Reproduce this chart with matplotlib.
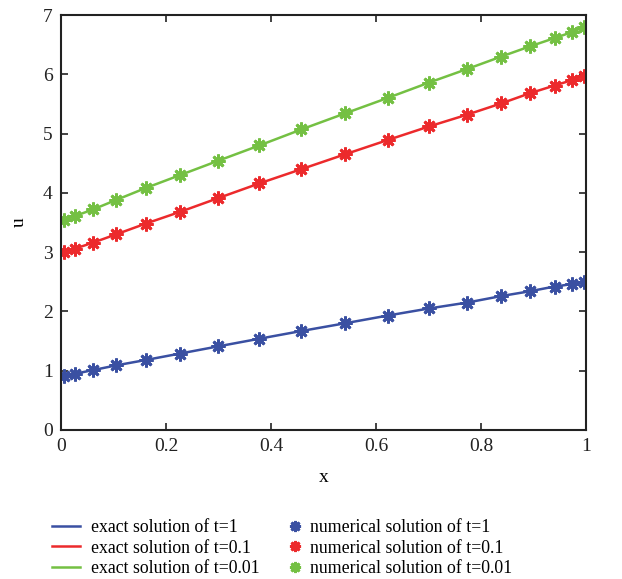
import matplotlib
matplotlib.use("Agg")
import matplotlib.pyplot as plt

plt.rcParams['font.family'] = ['Liberation Serif', 'DejaVu Serif']

x = [0.006, 0.027, 0.061, 0.105, 0.161, 0.227, 0.299, 0.378, 0.458, 0.541,
     0.622, 0.701, 0.774, 0.839, 0.893, 0.940, 0.973, 0.997]
u_t1 = [0.91, 0.95, 1.01, 1.09, 1.18, 1.29, 1.41, 1.54, 1.67, 1.80,
        1.93, 2.05, 2.15, 2.26, 2.34, 2.42, 2.46, 2.49]
u_t01 = [3.00, 3.06, 3.16, 3.30, 3.48, 3.68, 3.91, 4.16, 4.40, 4.65,
         4.89, 5.12, 5.32, 5.51, 5.68, 5.81, 5.90, 5.97]
u_t001 = [3.54, 3.61, 3.72, 3.88, 4.08, 4.30, 4.54, 4.80, 5.07, 5.34,
          5.60, 5.86, 6.09, 6.30, 6.47, 6.61, 6.71, 6.80]

labels_exact = ["exact solution of t=1", "exact solution of t=0.1", "exact solution of t=0.01"]
labels_num = ["numerical solution of t=1", "numerical solution of t=0.1", "numerical solution of t=0.01"]
colors = ["#3a50a2", "#ec2a2c", "#74c043"]
xticks = [0, 0.2, 0.4, 0.6, 0.8, 1]
xticklabels = ["0", "0.2", "0.4", "0.6", "0.8", "1"]
yticks = [0, 1, 2, 3, 4, 5, 6, 7]

fig = plt.figure(figsize=(6.22, 5.79), dpi=100)
ax = fig.add_axes([61/622, 1 - 430/579, 525/622, 415/579])

series = [u_t1, u_t01, u_t001]
line_handles = []
mark_handles = []
for s, c, le, ln in zip(series, colors, labels_exact, labels_num):
    h1, = ax.plot(x, s, color=c, lw=1.8, label=le)
    h2, = ax.plot(x, s, linestyle='none', marker=(8, 2, 0), markersize=10,
                  markeredgewidth=2.0, color=c, label=ln)
    line_handles.append(h1)
    mark_handles.append(h2)

ax.set_xlim(0, 1)
ax.set_ylim(0, 7)
ax.set_xticks(xticks)
ax.set_xticklabels(xticklabels)
ax.set_yticks(yticks)
ax.tick_params(direction='in', top=True, right=True, length=5, width=1.2,
               labelsize=14, colors='#222222', pad=6)
for sp in ax.spines.values():
    sp.set_linewidth(1.5)
    sp.set_color('#222222')
ax.set_xlabel("x", fontsize=14, labelpad=10)
ax.set_ylabel("u", fontsize=14, labelpad=11)

fig.legend(line_handles, labels_exact,
           loc='upper left', bbox_to_anchor=(52/622, 1 - 519/579), frameon=False,
           fontsize=12.8, handlelength=1.6, handletextpad=0.6,
           labelspacing=0.2, borderpad=0, borderaxespad=0)
fig.legend(mark_handles, labels_num,
           loc='upper left', bbox_to_anchor=(288/622, 1 - 519/579), frameon=False,
           fontsize=12.8, handlelength=0.8, handletextpad=0.45,
           labelspacing=0.2, borderpad=0, borderaxespad=0, markerscale=0.8)

fig.savefig("out.png", dpi=100)
